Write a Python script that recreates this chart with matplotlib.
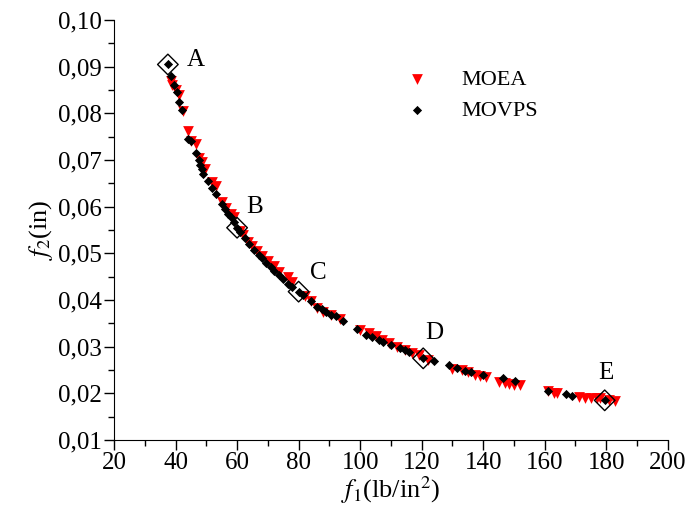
import numpy as np
import matplotlib
matplotlib.use("Agg")
from matplotlib import pyplot as plt
from matplotlib.ticker import MultipleLocator, FuncFormatter

plt.rcParams['font.family'] = ['Liberation Serif', 'DejaVu Serif']
plt.rcParams['mathtext.fontset'] = 'stix'

# MOEA front (red triangles)
moea_f1 = [38.5, 39, 40, 41, 42.5, 44, 45, 46.5, 47.5, 48.5, 49.5, 52, 53, 55, 56.5,
           58, 59, 61, 62, 63.5, 65, 66.5, 68, 70, 72, 73.5, 76.5, 78, 82, 84, 86,
           88, 90.5, 93.5, 100, 103, 105, 107, 109.5, 112, 114.5, 117, 119, 122,
           130, 133, 135, 137.5, 139, 141, 145, 147, 148.5, 150, 152, 161, 163,
           164, 171, 173, 175, 177, 178, 181, 183]
moea_f2 = [0.0870, 0.0862, 0.0850, 0.0840, 0.0805, 0.0762, 0.0740, 0.0735, 0.0705,
           0.0695, 0.0680, 0.0652, 0.0645, 0.0610, 0.0598, 0.0585, 0.0578, 0.0548,
           0.0540, 0.0525, 0.0515, 0.0505, 0.0495, 0.0484, 0.0472, 0.0460, 0.0450,
           0.0438, 0.0408, 0.0398, 0.0382, 0.0375, 0.0368, 0.0360, 0.0335, 0.0330,
           0.0322, 0.0315, 0.0308, 0.0300, 0.0293, 0.0287, 0.0282, 0.0272, 0.0253,
           0.0250, 0.0245, 0.0240, 0.0238, 0.0235, 0.0225, 0.0222, 0.0220, 0.0218,
           0.0218, 0.0205, 0.0200, 0.0200, 0.0192, 0.0190, 0.0190, 0.0189, 0.0189,
           0.0185, 0.0183]

# MOVPS front (black diamonds)
movps_f1 = [37.5, 38.5, 39.5, 40.5, 41, 42, 44, 45, 46.5, 47.5, 48, 48.5, 49, 50.5,
            52, 53, 55, 56, 57, 58, 59, 60, 61, 62.5, 64, 65.5, 67, 68, 69.5, 71,
            72, 73.5, 75, 76.5, 78, 80, 81.5, 84, 86, 87.5, 89, 90.5, 92, 94.5, 99,
            102, 104, 106, 107.5, 110, 113, 114.5, 116, 120.5, 124, 129, 131.5,
            134, 136, 140, 146.5, 150.5, 161, 167, 169, 179.5]
movps_f2 = [0.0905, 0.0880, 0.0860, 0.0845, 0.0825, 0.0808, 0.0745, 0.0740, 0.0715,
            0.0700, 0.0690, 0.0680, 0.0670, 0.0655, 0.0640, 0.0628, 0.0605, 0.0595,
            0.0585, 0.0577, 0.0567, 0.0555, 0.0545, 0.0533, 0.0521, 0.0508, 0.0497,
            0.0490, 0.0480, 0.0470, 0.0462, 0.0453, 0.0445, 0.0435, 0.0428, 0.0418,
            0.0410, 0.0398, 0.0385, 0.0380, 0.0375, 0.0368, 0.0365, 0.0355, 0.0338,
            0.0325, 0.0320, 0.0315, 0.0310, 0.0303, 0.0297, 0.0292, 0.0288, 0.0275,
            0.0270, 0.0260, 0.0255, 0.0248, 0.0245, 0.0240, 0.0232, 0.0226, 0.0205,
            0.0198, 0.0195, 0.0185]

# highlighted solutions and where their letters sit
sel_labels = ["A", "B", "C", "D", "E"]
sel_f1 = [37.5, 60, 80, 120.5, 179.5]
sel_f2 = [0.0905, 0.0555, 0.0418, 0.0275, 0.0185]
lab_x = [46.6, 65.8, 86.3, 124.0, 179.9]
lab_y = [0.0914, 0.0599, 0.0458, 0.0329, 0.0244]

fig = plt.figure(figsize=(6.87, 5.17), dpi=100)
ax = fig.add_axes([0.166, 0.149, 0.806, 0.812])

ax.scatter(moea_f1, moea_f2, marker="v", s=60, color="red", linewidths=0, label="MOEA", zorder=2)
ax.scatter(movps_f1, movps_f2, marker="D", s=22, color="black", linewidths=0, label="MOVPS", zorder=3)
ax.scatter(sel_f1, sel_f2, marker="D", s=110, facecolors="none", edgecolors="black",
           linewidths=1.0, zorder=4)

for lab, x, y in zip(sel_labels, lab_x, lab_y):
    ax.text(x, y, lab, fontsize=18, ha="center", va="center")

ax.set_xlim(20, 200)
ax.set_ylim(0.01, 0.10)
ax.xaxis.set_major_locator(MultipleLocator(20))
ax.xaxis.set_minor_locator(MultipleLocator(10))
ax.yaxis.set_major_locator(MultipleLocator(0.01))
ax.yaxis.set_minor_locator(MultipleLocator(0.005))
ax.yaxis.set_major_formatter(FuncFormatter(lambda v, p: ("%.2f" % v).replace(".", ",")))

ax.spines["top"].set_visible(False)
ax.spines["right"].set_visible(False)
ax.tick_params(which="major", direction="out", length=7, width=1, labelsize=18, pad=2)
ax.tick_params(which="minor", direction="out", length=4, width=1)

ax.set_xlabel(r"$f_1$(lb/in$^2$)", fontsize=19, labelpad=0)
ax.set_ylabel(r"$f_2$(in)", fontsize=19, labelpad=2)

ax.legend(loc="upper left", bbox_to_anchor=(0.47, 0.93), frameon=False, fontsize=16,
          handletextpad=1.0, scatterpoints=1, labelspacing=0.45)

fig.savefig("out.png", dpi=100)
